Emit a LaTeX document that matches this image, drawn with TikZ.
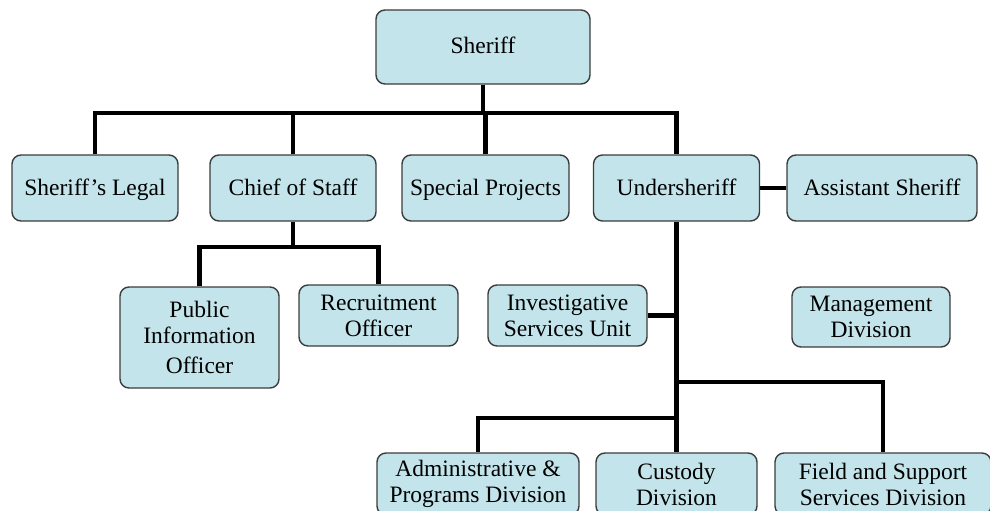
\documentclass[tikz,border=0pt]{standalone}
\usepackage{fontspec}
\setmainfont{Liberation Serif}
\usetikzlibrary{positioning}
\definecolor{boxfill}{RGB}{194,228,234}
\definecolor{boxline}{RGB}{60,60,60}

\begin{document}
\begin{tikzpicture}[x=1pt,y=-1pt,font=\fontsize{23.5}{26}\selectfont]
       \tikzstyle{unit}=[draw=boxline,line width=1.4pt,fill=boxfill,rounded corners=9pt,
                          align=center,inner sep=2pt,minimum height=66pt]
       \tikzstyle{oneline}=[unit,text height=17pt,text depth=3pt]
       \tikzstyle{wire}=[line width=4.2pt,black]

       \useasboundingbox (0,0) rectangle (990,511);
       \clip (0,0) rectangle (990,511);

       % top and second row
       \node[oneline,minimum width=214pt,minimum height=74pt] (sheriff) at (483,47) {Sheriff};
       \node[oneline,minimum width=166pt] (sheriffs_legal) at (95,188)    {Sheriff's Legal};
       \node[oneline,minimum width=166pt] (chief_staff)    at (293,188)   {Chief of Staff};
       \node[oneline,minimum width=167pt] (special_proj)   at (485.5,188) {Special Projects};
       \node[oneline,minimum width=166pt] (undersheriff)   at (676.5,188) {Undersheriff};
       \node[oneline,minimum width=190pt] (asst_sheriff)   at (882,188)   {Assistant Sheriff};

       % third row
       \node[unit,minimum width=159pt,minimum height=101pt] (pub_info) at (199.5,337.5)
             {Public\\Information\\[4pt]Officer};
       \node[unit,minimum width=159pt,minimum height=61pt] (recruit) at (378.5,315.5)
             {Recruitment\\Officer};
       \node[unit,minimum width=159pt,minimum height=61pt] (invest)  at (567.5,315.5)
             {Investigative\\Services Unit};
       \node[unit,minimum width=158pt,minimum height=60pt] (mgmt)    at (871,317)
             {Management\\Division};

       % divisions
       \node[unit,minimum width=202pt,minimum height=62pt] (admin_prog) at (478,484)
             {Administrative \&\\Programs Division};
       \node[unit,minimum width=161pt,minimum height=62pt] (custody)    at (676.5,484)
             {Custody\\Division};
       \node[unit,minimum width=216pt,minimum height=62pt] (field_supp) at (883,484)
             {Field and Support\\Services Division};

       \coordinate (top_bus)   at (485,113);
       \coordinate (staff_bus) at (290,247);
       \coordinate (field_bus) at (676.5,382);
       \coordinate (admin_bus) at (676.5,418);

       \draw[wire] (sheriff.south) -- (sheriff.south |- top_bus);
       \draw[wire] (sheriffs_legal.north) |- (top_bus) -| (undersheriff.north);
       \draw[wire] (chief_staff.north) -- (chief_staff.north |- top_bus);
       \draw[wire] (special_proj.north) -- (special_proj.north |- top_bus);
       \draw[wire] (undersheriff.east) -- (asst_sheriff.west);

       \draw[wire] (chief_staff.south) -- (chief_staff.south |- staff_bus);
       \draw[wire] (pub_info.north) |- (staff_bus) -| (recruit.north);

       \draw[wire] (undersheriff.south) -- (custody.north);
       \draw[wire] (invest.east) -- (invest.east -| undersheriff.south);
       \draw[wire] (field_bus) -| (field_supp.north);
       \draw[wire] (admin_prog.north) |- (admin_bus);
\end{tikzpicture}
\end{document}
